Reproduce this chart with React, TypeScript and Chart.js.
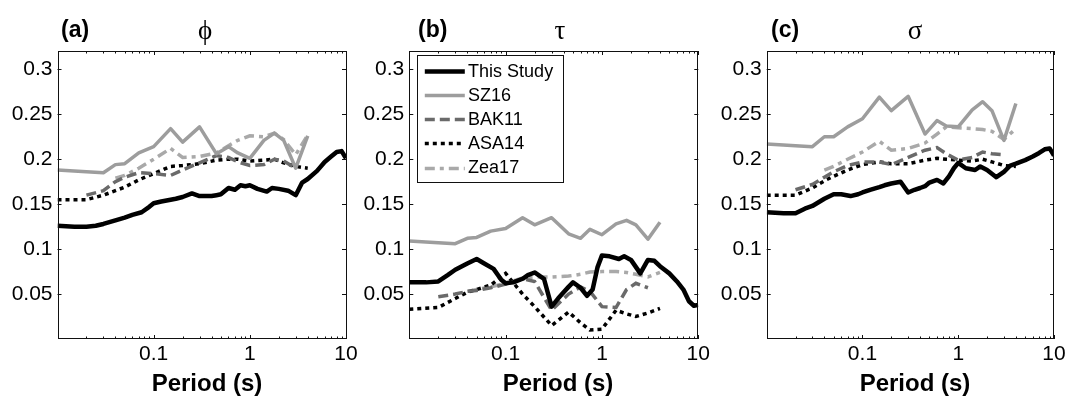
import React, { useEffect, useRef } from "react";
import { Chart, registerables } from "chart.js";

Chart.register(...registerables);

// ---- Data -------------------------------------------------------------

// Periods (s) at which the single-station model of this study is evaluated
const thisStudyPeriods = [
  0.01, 0.015, 0.02, 0.025, 0.03, 0.04, 0.05, 0.06, 0.075, 0.09,
  0.1, 0.12, 0.15, 0.17, 0.2, 0.25, 0.3, 0.35, 0.4, 0.45,
  0.5, 0.6, 0.7, 0.8, 0.9, 1, 1.2, 1.5, 1.7, 2,
  2.5, 3, 3.5, 4, 5, 6, 7, 8, 9, 10,
];

// Periods (s) of the published models used for comparison
const modelPeriods = [
  0.01, 0.02, 0.03, 0.04, 0.05, 0.07, 0.1, 0.15, 0.2, 0.3,
  0.45, 0.6, 0.75, 1, 1.4, 1.8, 2.25, 3, 4,
];

// Within-event standard deviation (phi)
const phiThisStudy = [
  0.126, 0.125, 0.125, 0.126, 0.128, 0.132, 0.135, 0.138, 0.141, 0.147,
  0.151, 0.153, 0.155, 0.156, 0.158, 0.162, 0.159, 0.159, 0.159, 0.160,
  0.161, 0.168, 0.166, 0.171, 0.170, 0.171, 0.167, 0.164, 0.168, 0.167,
  0.165, 0.160, 0.174, 0.178, 0.187, 0.197, 0.203, 0.208, 0.209, 0.201,
];
const phiSZ16 = [0.188, 0.186, 0.185, 0.194, 0.195, 0.207, 0.214, 0.234, 0.219, 0.236, 0.206, 0.214, 0.207, 0.201, 0.221, 0.229, 0.221, 0.190, 0.226];
const phiBAK11 = [null, 0.160, 0.165, 0.175, 0.180, 0.185, 0.184, 0.182, 0.188, 0.196, 0.204, 0.202, 0.197, 0.193, 0.194, 0.200, 0.198, 0.190, null];
const phiASA14 = [0.155, 0.155, 0.160, 0.165, 0.169, 0.177, 0.184, 0.192, 0.193, 0.195, 0.199, 0.200, 0.200, 0.198, 0.199, 0.200, 0.196, 0.192, 0.190];
const phiZea17 = [null, null, null, 0.179, 0.182, 0.190, 0.200, 0.212, 0.202, 0.203, 0.207, 0.215, 0.221, 0.226, 0.225, 0.229, 0.222, 0.205, 0.227];

// Between-event standard deviation (tau)
const tauThisStudy = [
  0.063, 0.063, 0.064, 0.071, 0.077, 0.084, 0.089, 0.084, 0.078, 0.066,
  0.062, 0.063, 0.067, 0.071, 0.074, 0.067, 0.036, 0.045, 0.052, 0.058,
  0.063, 0.057, 0.048, 0.055, 0.080, 0.093, 0.092, 0.089, 0.092, 0.088,
  0.073, 0.088, 0.087, 0.081, 0.073, 0.064, 0.055, 0.042, 0.037, 0.038,
];
const tauSZ16 = [0.109, 0.107, 0.106, 0.112, 0.113, 0.120, 0.123, 0.135, 0.127, 0.135, 0.117, 0.112, 0.122, 0.116, 0.128, 0.132, 0.127, 0.111, 0.130];
const tauBAK11 = [null, 0.047, 0.050, 0.053, 0.054, 0.057, 0.061, 0.067, 0.064, 0.032, 0.050, 0.058, 0.053, 0.036, 0.035, 0.055, 0.062, 0.057, null];
const tauASA14 = [0.033, 0.035, 0.045, 0.052, 0.055, 0.060, 0.073, 0.050, 0.036, 0.015, 0.030, 0.018, 0.010, 0.011, 0.032, 0.028, 0.025, 0.029, 0.034];
const tauZea17 = [null, null, null, 0.053, 0.055, 0.058, 0.062, 0.068, 0.069, 0.069, 0.070, 0.072, 0.0745, 0.075, 0.075, 0.074, 0.072, 0.069, 0.074];

// Total standard deviation (sigma)
const sigmaThisStudy = [
  0.141, 0.140, 0.140, 0.145, 0.148, 0.156, 0.161, 0.161, 0.159, 0.161,
  0.163, 0.166, 0.169, 0.171, 0.173, 0.175, 0.163, 0.166, 0.168, 0.170,
  0.174, 0.177, 0.173, 0.181, 0.190, 0.196, 0.190, 0.188, 0.192, 0.188,
  0.180, 0.186, 0.193, 0.195, 0.199, 0.203, 0.207, 0.211, 0.212, 0.204,
];
const sigmaSZ16 = [0.217, 0.215, 0.214, 0.225, 0.225, 0.236, 0.245, 0.269, 0.254, 0.270, 0.228, 0.243, 0.237, 0.236, 0.255, 0.264, 0.254, 0.221, 0.262];
const sigmaBAK11 = [null, 0.166, 0.172, 0.180, 0.186, 0.193, 0.197, 0.197, 0.194, 0.202, 0.210, 0.213, 0.206, 0.199, 0.202, 0.208, 0.206, 0.205, null];
const sigmaASA14 = [0.160, 0.160, 0.168, 0.176, 0.181, 0.188, 0.194, 0.197, 0.195, 0.195, 0.199, 0.201, 0.200, 0.199, 0.198, 0.200, 0.197, 0.193, 0.192];
const sigmaZea17 = [null, null, null, 0.188, 0.192, 0.200, 0.208, 0.220, 0.210, 0.212, 0.218, 0.228, 0.236, 0.235, 0.234, 0.233, 0.231, 0.222, 0.234];

const seriesLabels = ["This Study", "SZ16", "BAK11", "ASA14", "Zea17"];
const panelLetters = ["(a)", "(b)", "(c)"];
const panelSymbols = ["\u03D5", "\u03C4", "\u03C3"];
const xTickValues = [0.1, 1, 10];
const yTickValues = [0.05, 0.1, 0.15, 0.2, 0.25, 0.3];
const xAxisTitle = "Period (s)";

const panelValues = [
  [phiThisStudy, phiSZ16, phiBAK11, phiASA14, phiZea17],
  [tauThisStudy, tauSZ16, tauBAK11, tauASA14, tauZea17],
  [sigmaThisStudy, sigmaSZ16, sigmaBAK11, sigmaASA14, sigmaZea17],
];

// ---- Appearance ---------------------------------------------------------

const W = 1070;
const H = 397;
const PLOT_TOP = 51;
const PLOT_BOTTOM = 339;
const Y_AXIS_W = 50;
const X_MIN = 0.01;
const X_MAX = 10;
const Y_MAX = 0.3204;

const SANS = "'Liberation Sans', Arial, Helvetica, sans-serif";
const SERIF = "'Liberation Serif', 'DejaVu Serif', 'Times New Roman', serif";

const PANELS = [
  { left: 57.5, right: 346, letterX: 61, symbolX: 205, titleX: 207 },
  { left: 409.3, right: 698.3, letterX: 418, symbolX: 560, titleX: 558 },
  { left: 766.7, right: 1054, letterX: 771, symbolX: 915, titleX: 915 },
];

const SERIES_STYLES = [
  { color: "#000000", width: 4.5, dash: [] as number[] },
  { color: "#9d9d9d", width: 3.5, dash: [] as number[] },
  { color: "#6a6a6a", width: 3.5, dash: [10, 5] },
  { color: "#000000", width: 3.5, dash: [4, 4] },
  { color: "#a9a9a9", width: 3.5, dash: [10, 5, 4, 5] },
];

function toPoints(periods: number[], values: (number | null)[]) {
  const pts: { x: number; y: number }[] = [];
  periods.forEach((p, i) => {
    const v = values[i];
    if (v !== null && v !== undefined) pts.push({ x: p, y: v });
  });
  return pts;
}

function makeDecorPlugin(panelIndex: number) {
  const cfg = PANELS[panelIndex];
  return {
    id: "panelDecor" + panelIndex,
    afterDatasetsDraw(chart: any) {
      const { ctx, chartArea: a, scales } = chart;
      const x = scales.x;
      const y = scales.y;
      ctx.save();
      ctx.strokeStyle = "#111";
      ctx.lineWidth = 1;
      ctx.setLineDash([]);
      // axis box
      ctx.strokeRect(Math.round(a.left) + 0.5, Math.round(a.top) + 0.5,
        Math.round(a.right - a.left) - 1, Math.round(a.bottom - a.top) - 1);
      // inward log ticks on the bottom and top edges
      ctx.beginPath();
      for (const d of [0.01, 0.1, 1, 10]) {
        for (let k = 1; k <= 9; k++) {
          const v = k * d;
          if (v > X_MAX * 1.0001) break;
          const px = Math.round(x.getPixelForValue(v)) + 0.5;
          const len = k === 1 ? 4 : 2.5;
          ctx.moveTo(px, a.bottom);
          ctx.lineTo(px, a.bottom - len);
          ctx.moveTo(px, a.top);
          ctx.lineTo(px, a.top + len);
        }
      }
      // inward linear ticks on the left and right edges
      for (const v of yTickValues) {
        const py = Math.round(y.getPixelForValue(v)) + 0.5;
        ctx.moveTo(a.left, py);
        ctx.lineTo(a.left + 4, py);
        ctx.moveTo(a.right, py);
        ctx.lineTo(a.right - 4, py);
      }
      ctx.stroke();
      ctx.restore();
    },
    afterDraw(chart: any) {
      const { ctx, chartArea: a } = chart;
      ctx.save();
      ctx.fillStyle = "#000";
      ctx.textBaseline = "alphabetic";
      // panel letter
      ctx.textAlign = "left";
      ctx.font = `bold 23px ${SANS}`;
      ctx.fillText(panelLetters[panelIndex], cfg.letterX, 37);
      // panel symbol
      ctx.textAlign = "center";
      ctx.font = `27px ${SERIF}`;
      ctx.fillText(panelSymbols[panelIndex], cfg.symbolX, 39);
      // x-axis title
      ctx.font = `bold 24px ${SANS}`;
      ctx.fillText(xAxisTitle, cfg.titleX, 391);

      // legend lives in the middle panel
      if (panelIndex === 1) {
        const bx = Math.round(a.left + 7.4) + 0.5;
        const by = Math.round(a.top + 3.7) + 0.5;
        const bw = 145.6;
        const bh = 127.3;
        ctx.fillStyle = "#ffffff";
        ctx.fillRect(bx, by, bw, bh);
        ctx.strokeStyle = "#111";
        ctx.lineWidth = 1;
        ctx.setLineDash([]);
        ctx.strokeRect(bx, by, Math.round(bw), Math.round(bh));
        ctx.font = `18px ${SANS}`;
        ctx.textAlign = "left";
        ctx.textBaseline = "middle";
        chart.data.datasets.forEach((ds: any, i: number) => {
          const cy = by + 15.6 + i * 24.1;
          ctx.save();
          ctx.strokeStyle = ds.borderColor;
          ctx.lineWidth = ds.borderWidth;
          ctx.setLineDash(ds.borderDash || []);
          ctx.beginPath();
          ctx.moveTo(bx + 7.3, Math.round(cy) + 0.5);
          ctx.lineTo(bx + 47.3, Math.round(cy) + 0.5);
          ctx.stroke();
          ctx.restore();
          ctx.fillStyle = "#000";
          ctx.fillText(ds.label, bx + 50.6, cy + 1);
        });
      }
      ctx.restore();
    },
  };
}

function Panel({ index }: { index: number }) {
  const ref = useRef<HTMLCanvasElement | null>(null);

  useEffect(() => {
    const canvas = ref.current;
    if (!canvas) return;
    const cfg = PANELS[index];
    const values = panelValues[index];
    const datasets = values.map((vals, i) => ({
      label: seriesLabels[i],
      data: toPoints(i === 0 ? thisStudyPeriods : modelPeriods, vals as (number | null)[]),
      borderColor: SERIES_STYLES[i].color,
      borderWidth: SERIES_STYLES[i].width,
      borderDash: SERIES_STYLES[i].dash,
      borderJoinStyle: i === 3 || i === 2 || i === 4 ? "miter" : "round",
      pointRadius: 0,
      tension: 0,
      fill: false,
    }));

    const chart = new Chart(canvas, {
      type: "line",
      data: { datasets } as any,
      options: {
        animation: false,
        responsive: false,
        maintainAspectRatio: false,
        devicePixelRatio: 1,
        events: [],
        layout: {
          padding: {
            top: PLOT_TOP,
            left: cfg.left - Y_AXIS_W,
            right: W - cfg.right,
            bottom: 0,
          },
        },
        plugins: {
          legend: { display: false },
          tooltip: { enabled: false },
          title: { display: false },
        },
        scales: {
          x: {
            type: "logarithmic",
            min: X_MIN,
            max: X_MAX,
            grid: { display: false, drawTicks: false },
            border: { display: false },
            afterBuildTicks: (s: any) => {
              s.ticks = xTickValues.map((v) => ({ value: v }));
            },
            afterFit: (s: any) => {
              s.height = H - PLOT_BOTTOM;
              s.paddingLeft = 0;
              s.paddingRight = 0;
            },
            ticks: {
              autoSkip: false,
              maxRotation: 0,
              padding: 3,
              color: "#000",
              font: { family: SANS, size: 21 },
              callback: (v: any) => String(v),
            },
          },
          y: {
            type: "linear",
            min: 0,
            max: Y_MAX,
            grid: { display: false, drawTicks: false },
            border: { display: false },
            afterBuildTicks: (s: any) => {
              s.ticks = yTickValues.map((v) => ({ value: v }));
            },
            afterFit: (s: any) => {
              s.width = Y_AXIS_W;
              s.paddingTop = 0;
              s.paddingBottom = 0;
            },
            ticks: {
              autoSkip: false,
              padding: 5,
              color: "#000",
              font: { family: SANS, size: 21 },
              callback: (v: any) => String(v),
            },
          },
        },
      } as any,
      plugins: [makeDecorPlugin(index)],
    });

    return () => chart.destroy();
  }, [index]);

  return (
    <canvas
      ref={ref}
      width={W}
      height={H}
      style={{ position: "absolute", left: 0, top: 0, width: W, height: H }}
    />
  );
}

export default function App() {
  return (
    <div
      style={{
        position: "absolute",
        left: 0,
        top: 0,
        width: W,
        height: H,
        background: "#ffffff",
        overflow: "hidden",
      }}
    >
      <Panel index={0} />
      <Panel index={1} />
      <Panel index={2} />
    </div>
  );
}
